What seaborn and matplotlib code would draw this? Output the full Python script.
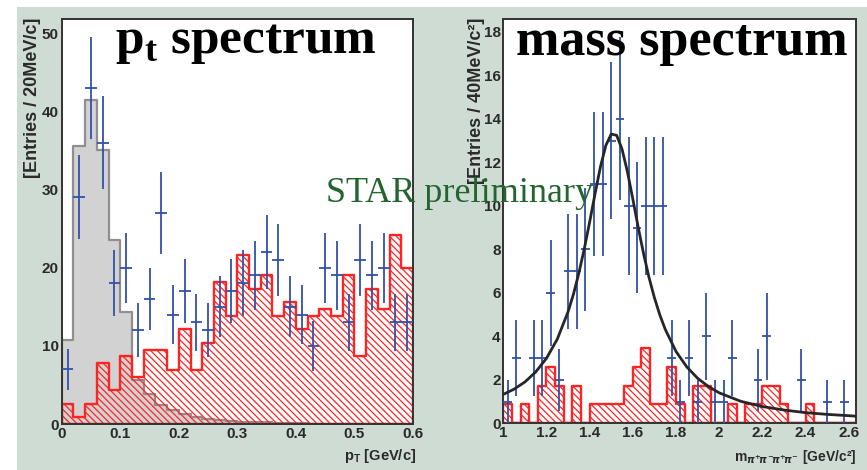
import numpy as np
import pandas as pd
import matplotlib
matplotlib.use("Agg")
import matplotlib.pyplot as plt
import seaborn as sns
from matplotlib.patches import Rectangle
from matplotlib.ticker import MultipleLocator

# ---------------- data : pT spectrum (20 MeV/c bins, 0 - 0.6 GeV/c) ----------------
pt_range = (0.0, 0.6)
pt_bin = 0.02
pt_data = [7, 29, 43, 36, 18, 20, 12, 16, 27, 14, 17, 13, 12, 15, 17,
           18, 19, 22, 21, 15, 14, 10, 20, 19, 13, 21, 19, 20, 13, 13]
pt_background = [2.6, 0.87, 2.6, 7.8, 4.3, 8.65, 6.05, 9.5, 9.5, 6.9, 12.1, 6.9, 10.4, 18.2, 13.8,
                 21.6, 17.3, 19.0, 13.8, 15.6, 12.1, 13.8, 14.7, 13.8, 19.0, 8.65, 17.3, 14.7, 24.2, 19.9]
pt_simulation = [10.7, 35.5, 41.4, 35.1, 23.5, 14.3, 5.6, 3.8, 2.4, 1.8, 1.3, 0.9, 0.7, 0.5, 0.35,
                 0.3, 0.25, 0.2, 0.15, 0.1, 0.1, 0.05, 0.05, 0, 0, 0, 0, 0, 0, 0]

# ---------------- data : mass spectrum (40 MeV/c^2 bins, 1.0 - 2.64 GeV/c^2) ----------------
m_range = (1.0, 2.64)
m_bin = 0.04
m_data = [1, 3, 0, 3, 3, 6, 2, 7, 7, 8, 11, 11, 13, 14, 10, 9, 10, 10, 10, 3, 1,
          3, 1, 4, 1, 1, 3, 0, 0, 2, 4, 0, 0, 0, 2, 0, 0, 1, 0, 1, 0]
m_background = [0.87, 0, 0.87, 0, 1.73, 2.6, 1.73, 0, 1.73, 0, 0.87, 0.87, 0.87, 0.87, 1.73, 2.6,
                3.46, 0.87, 0.87, 2.6, 0.87, 0, 1.73, 1.73, 0, 0, 0.87, 0, 0.87, 0.87, 1.73, 1.73,
                0.87, 0, 0, 0.87, 0, 0, 0, 0, 0]
fit_x = [1.00, 1.05, 1.10, 1.15, 1.20, 1.25, 1.30, 1.325, 1.35, 1.375, 1.40, 1.425, 1.45, 1.475,
         1.50, 1.525, 1.55, 1.575, 1.60, 1.625, 1.65, 1.675, 1.70, 1.725, 1.75, 1.80, 1.85, 1.90,
         1.95, 2.00, 2.10, 2.20, 2.30, 2.40, 2.50, 2.60, 2.63]
fit_y = [1.33, 1.57, 1.90, 2.36, 2.99, 3.87, 5.13, 5.94, 6.91, 8.02, 9.26, 10.56, 11.8, 12.78,
         13.3, 13.24, 12.6, 11.56, 10.3, 9.00, 7.78, 6.70, 5.77, 4.98, 4.32, 3.30, 2.59, 2.07,
         1.69, 1.40, 1.01, 0.77, 0.61, 0.49, 0.41, 0.35, 0.33]

# ---------------- style ----------------
BG = "#cfdcd3"
BLUE = "#3251aa"
RED = "#ff2424"
GREEN = "#22652f"
sns.set_style("white")
plt.rcParams["font.family"] = ["Liberation Sans", "DejaVu Sans"]
plt.rcParams["font.weight"] = "bold"
plt.rcParams["hatch.color"] = RED
plt.rcParams["hatch.linewidth"] = 0.9
plt.rcParams["mathtext.fontset"] = "dejavusans"


def make_frame(n, lo, width):
    edges = [float(lo + width * i) for i in range(n + 1)]
    centers = [float(lo + width * (i + 0.5)) for i in range(n)]
    return edges, centers


W, H = 867, 470
fig = plt.figure(figsize=(W / 100, H / 100), dpi=100)
fig.patch.set_facecolor("white")
fig.patches.append(Rectangle((17 / W, 0), 1 - 17 / W, 1 - 7 / H, transform=fig.transFigure,
                             facecolor=BG, edgecolor="none", zorder=-10))

ax1 = fig.add_axes([61.7 / W, 46 / H, 351.3 / W, 405 / H])
ax2 = fig.add_axes([503.3 / W, 46.7 / H, 352.4 / W, 404.3 / H])


def draw_panel(ax, edges, centers, data, back, sim=None):
    df = pd.DataFrame({"x": centers, "data": data, "back": back})
    if sim is not None:
        df["sim"] = sim
        sns.histplot(data=df, x="x", weights="sim", bins=edges, element="step", fill=True,
                     color="#8f8f8f", facecolor="#d2d2d2", edgecolor="#8f8f8f", linewidth=1.6,
                     ax=ax, zorder=1)
    sns.histplot(data=df, x="x", weights="back", bins=edges, element="step", fill=True,
                 color=RED, facecolor="none", edgecolor=RED, linewidth=1.7, hatch="\\" * 5,
                 ax=ax, zorder=2)
    pts = df[df["data"] > 0]
    ax.errorbar(pts["x"], pts["data"], xerr=(edges[1] - edges[0]) / 2,
                yerr=np.sqrt(pts["data"]), fmt="none", ecolor=BLUE, elinewidth=1.3,
                capsize=0, zorder=4)


pt_edges, pt_centers = make_frame(len(pt_data), pt_range[0], pt_bin)
draw_panel(ax1, pt_edges, pt_centers, pt_data, pt_background, pt_simulation)

m_edges, m_centers = make_frame(len(m_data), m_range[0], m_bin)
draw_panel(ax2, m_edges, m_centers, m_data, m_background)
sns.lineplot(x=fit_x, y=fit_y, color="#262626", linewidth=2.0, ax=ax2, zorder=5)

ax1.set_xlim(0, 0.6)
ax1.set_ylim(0, 51.8)
ax1.xaxis.set_minor_locator(MultipleLocator(0.02))
ax1.yaxis.set_major_locator(MultipleLocator(10))
ax1.yaxis.set_minor_locator(MultipleLocator(2))
ax1.set_xticks([0, 0.1, 0.2, 0.3, 0.4, 0.5, 0.6])
ax1.set_xticklabels(["0", "0.1", "0.2", "0.3", "0.4", "0.5", "0.6"])

ax2.set_xlim(1.0, 2.632)
ax2.set_ylim(0, 18.59)
ax2.xaxis.set_minor_locator(MultipleLocator(0.04))
ax2.yaxis.set_major_locator(MultipleLocator(2))
ax2.yaxis.set_minor_locator(MultipleLocator(0.4))
ax2.set_xticks([1.0, 1.2, 1.4, 1.6, 1.8, 2.0, 2.2, 2.4, 2.6])
ax2.set_xticklabels(["1", "1.2", "1.4", "1.6", "1.8", "2", "2.2", "2.4", "2.6"])

for ax in (ax1, ax2):
    ax.set_facecolor("white")
    ax.set_xlabel("")
    ax.set_ylabel("")
    for s in ax.spines.values():
        s.set_linewidth(1.4)
        s.set_color("#333333")
        s.set_visible(True)
    ax.tick_params(which="both", direction="in", top=False, right=False, colors="#222222",
                   labelcolor="#2a2a2a", labelsize=11, pad=2)
    ax.tick_params(which="major", length=9, width=1.2)
    ax.tick_params(which="minor", length=5, width=1.0)
    for lbl in ax.get_xticklabels() + ax.get_yticklabels():
        lbl.set_fontweight("bold")

# ---------------- texts ----------------
def fx(px):
    return px / W


def fy(py):
    return 1 - py / H


fig.text(fx(33), fy(18), "[Entries / 20MeV/c]", rotation=90, ha="center", va="top",
         fontsize=13, fontweight="bold", color="#2a2a2a")
fig.text(fx(476.7), fy(18), "[Entries / 40MeV/c²]", rotation=90, ha="center", va="top",
         fontsize=13, fontweight="bold", color="#2a2a2a")
fig.text(fx(416), fy(456), r"p$_\mathregular{T}$ [GeV/c]", ha="right", va="center",
         fontsize=10.5, fontweight="bold", color="#2a2a2a")
fig.text(fx(856), fy(457), r"m$_{\pi^{+}\!\pi^{-}\!\pi^{+}\!\pi^{-}}$ [GeV/c²]", ha="right",
         va="center", fontsize=10, fontweight="bold", color="#2a2a2a")

fig.text(fx(115), fy(53), r"p$_\mathregular{t}$ spectrum", family=["Liberation Serif", "DejaVu Serif"],
         fontweight="bold", fontsize=37, ha="left", va="baseline", color="black", zorder=10)
fig.text(fx(516), fy(55), "mass spectrum", family=["Liberation Serif", "DejaVu Serif"],
         fontweight="bold", fontsize=37.5, ha="left", va="baseline", color="black", zorder=10)
fig.text(fx(325.7), fy(201.7), "STAR preliminary", family=["Liberation Serif", "DejaVu Serif"],
         fontweight="normal", fontsize=26, ha="left", va="baseline", color=GREEN, zorder=10)

fig.savefig("out.png", dpi=100, facecolor=fig.get_facecolor())
